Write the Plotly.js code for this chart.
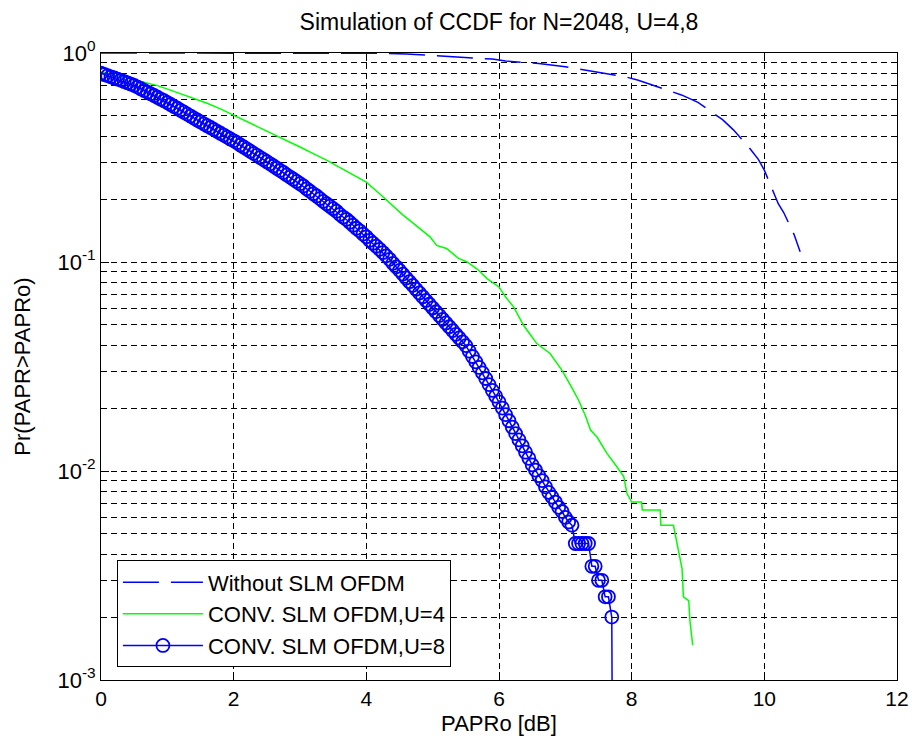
<!DOCTYPE html>
<html>
<head>
<meta charset="utf-8">
<script src="https://cdn.plot.ly/plotly-3.0.1.min.js"></script>
<style>
  html, body { margin: 0; padding: 0; background: #fff; }
  #chart { width: 912px; height: 747px; }
</style>
</head>
<body>
<div id="chart"></div>
<script>
// ---- Data ----
// Without SLM OFDM (dashed blue)
const xWithout = [0, 1, 2, 3, 3.9, 4.2, 4.6, 5.0, 5.5, 5.9, 6.1, 6.6, 7.0, 7.5, 7.9, 8.1, 8.55, 8.75, 9.0, 9.37, 9.53, 9.75, 9.91, 10.0, 10.21, 10.29, 10.45, 10.54];
const pWithout = [1, 1, 1, 1, 1, 0.997, 0.99, 0.975, 0.95, 0.935, 0.916, 0.89, 0.86, 0.81, 0.77, 0.74, 0.66, 0.63, 0.58, 0.48, 0.43, 0.36, 0.31, 0.275, 0.19, 0.173, 0.135, 0.112];

// CONV. SLM OFDM, U=4 (green)
const xU4 = [0, 0.2, 0.4, 0.6, 0.84, 1.1, 1.34, 1.6, 1.8, 2.0, 2.3, 2.5, 2.7, 3.0, 3.2, 3.4, 3.7, 4.0, 4.2, 4.36, 4.55, 4.71, 4.96, 5.06, 5.21, 5.39, 5.52, 5.68, 5.82, 6.0, 6.1, 6.22, 6.37, 6.47, 6.57, 6.77, 6.95, 7.1, 7.2, 7.3, 7.38, 7.48, 7.63, 7.78, 7.88, 7.93, 8.0, 8.15, 8.16, 8.43, 8.44, 8.63, 8.76, 8.78, 8.86, 8.88, 8.92];
const pU4 = [0.81, 0.785, 0.76, 0.73, 0.70, 0.655, 0.616, 0.575, 0.54, 0.504, 0.455, 0.425, 0.396, 0.355, 0.33, 0.307, 0.272, 0.241, 0.212, 0.19, 0.168, 0.153, 0.132, 0.12, 0.116, 0.104, 0.100, 0.092, 0.0833, 0.076, 0.068, 0.061, 0.0498, 0.045, 0.0407, 0.0365, 0.0303, 0.025, 0.0218, 0.0185, 0.0157, 0.0145, 0.0121, 0.01045, 0.0094, 0.0078, 0.0071, 0.0071, 0.0065, 0.0065, 0.0055, 0.0055, 0.0034, 0.0025, 0.0024, 0.0019, 0.00147];

// CONV. SLM OFDM, U=8 (blue with circles)
const xU8 = [0, 0.05, 0.1, 0.15, 0.2, 0.25, 0.3, 0.35, 0.4, 0.45, 0.5, 0.55, 0.6, 0.65, 0.7, 0.75, 0.8, 0.85, 0.9, 0.95,
  1, 1.05, 1.1, 1.15, 1.2, 1.25, 1.3, 1.35, 1.4, 1.45, 1.5, 1.55, 1.6, 1.65, 1.7, 1.75, 1.8, 1.85, 1.9, 1.95,
  2, 2.05, 2.1, 2.15, 2.2, 2.25, 2.3, 2.35, 2.4, 2.45, 2.5, 2.55, 2.6, 2.65, 2.7, 2.75, 2.8, 2.85, 2.9, 2.95,
  3, 3.05, 3.1, 3.15, 3.2, 3.25, 3.3, 3.35, 3.4, 3.45, 3.5, 3.55, 3.6, 3.65, 3.7, 3.75, 3.8, 3.85, 3.9, 3.95,
  4, 4.05, 4.1, 4.15, 4.2, 4.25, 4.3, 4.35, 4.4, 4.45, 4.5, 4.55, 4.6, 4.65, 4.7, 4.75, 4.8, 4.85, 4.9, 4.95,
  5, 5.05, 5.1, 5.15, 5.2, 5.25, 5.3, 5.35, 5.4, 5.45, 5.5, 5.55, 5.6, 5.65, 5.7, 5.75, 5.8, 5.85, 5.9, 5.95,
  6, 6.05, 6.1, 6.15, 6.2, 6.25, 6.3, 6.35, 6.4, 6.45, 6.5, 6.55, 6.6, 6.65, 6.7, 6.75, 6.8, 6.85, 6.9, 6.95,
  7, 7.05, 7.1, 7.15, 7.2, 7.25, 7.3, 7.35, 7.4, 7.45, 7.5, 7.55, 7.6, 7.65, 7.7, 7.75];
const pU8 = [0.800, 0.789, 0.779, 0.769, 0.760, 0.750, 0.740, 0.730, 0.720, 0.710, 0.700, 0.687, 0.675, 0.662, 0.650, 0.638, 0.626, 0.614, 0.602, 0.591,
  0.579, 0.567, 0.555, 0.544, 0.532, 0.521, 0.510, 0.499, 0.488, 0.478, 0.468, 0.458, 0.449, 0.440, 0.431, 0.422, 0.413, 0.405, 0.396, 0.388,
  0.380, 0.372, 0.363, 0.355, 0.347, 0.339, 0.331, 0.324, 0.316, 0.309, 0.302, 0.295, 0.288, 0.281, 0.274, 0.268, 0.261, 0.255, 0.249, 0.243,
  0.237, 0.231, 0.224, 0.218, 0.212, 0.207, 0.201, 0.195, 0.190, 0.185, 0.180, 0.175, 0.169, 0.164, 0.160, 0.155, 0.150, 0.145, 0.141, 0.136,
  0.132, 0.127, 0.123, 0.119, 0.115, 0.111, 0.107, 0.103, 0.0986, 0.0948, 0.0912, 0.0875, 0.0839, 0.0805, 0.0773, 0.0741, 0.0711, 0.0682, 0.0655, 0.0628,
  0.0603, 0.0578, 0.0555, 0.0532, 0.0511, 0.0490, 0.0470, 0.0451, 0.0433, 0.0415, 0.0398, 0.0375, 0.0353, 0.0333, 0.0313, 0.0295, 0.0277, 0.0259, 0.0243, 0.0228,
  0.0214, 0.0200, 0.0186, 0.0174, 0.0162, 0.0151, 0.0141, 0.0132, 0.0123, 0.0115, 0.0107, 0.0101, 0.0095, 0.0090, 0.0084, 0.0079, 0.0075, 0.0071, 0.0067, 0.0064,
  0.0060, 0.0057, 0.0055, 0.0045, 0.0045, 0.0045, 0.0045, 0.0045, 0.0035, 0.0035, 0.0030, 0.0030, 0.0025, 0.0025, 0.0020, 0.000001];

// Tick labels
const xTickVals = [0, 2, 4, 6, 8, 10, 12];
const yTickVals = [1, 0.1, 0.01, 0.001];
const yTickText = ['10<sup>0</sup>', '10<sup>-1</sup>', '10<sup>-2</sup>', '10<sup>-3</sup>'];
const seriesNames = ['Without SLM OFDM', 'CONV. SLM OFDM,U=4', 'CONV. SLM OFDM,U=8'];

// minor grid positions (2..9 in each decade)
const yMinor = [];
[0.001, 0.01, 0.1].forEach(function (d) {
  for (let k = 2; k <= 9; k++) yMinor.push(+(k * d).toPrecision(3));
});

const FONT = 'Liberation Sans, Arial, Helvetica, sans-serif';

const traces = [
  {
    x: xWithout, y: pWithout, name: seriesNames[0], type: 'scatter', mode: 'lines',
    line: { color: '#0000ff', width: 1.5, dash: '36px,12px' }
  },
  {
    x: xU4, y: pU4, name: seriesNames[1], type: 'scatter', mode: 'lines',
    line: { color: '#00ff00', width: 1.5 }
  },
  {
    x: xU8, y: pU8, name: seriesNames[2], type: 'scatter', mode: 'lines+markers',
    line: { color: '#0000ff', width: 1.5 },
    marker: { symbol: 'circle-open', size: 13, color: '#0000ff', line: { color: '#0000ff', width: 1.8 } }
  }
];

const gridDash = '6px,4px';

const layout = {
  width: 912, height: 747,
  paper_bgcolor: '#ffffff', plot_bgcolor: '#ffffff',
  margin: { l: 101, r: 15, t: 53, b: 67, pad: 0 },
  font: { family: FONT, size: 21, color: '#000' },
  title: {
    text: 'Simulation of CCDF for N=2048, U=4,8',
    x: 0.5, xref: 'paper', xanchor: 'center',
    y: 1 - 22 / 747, yref: 'container', yanchor: 'middle',
    font: { family: FONT, size: 23, color: '#000' }
  },
  showlegend: true,
  legend: {
    x: 0.02, y: 0.02, xanchor: 'left', yanchor: 'bottom',
    bgcolor: '#ffffff', bordercolor: '#000', borderwidth: 1,
    font: { family: FONT, size: 22, color: '#000' },
    itemwidth: 80, tracegroupgap: 0
  },
  xaxis: {
    range: [0, 12], tickmode: 'array', tickvals: xTickVals,
    ticks: 'inside', ticklen: 8, tickcolor: '#000', tickwidth: 1,
    showline: true, linecolor: '#000', linewidth: 1, mirror: 'ticks',
    showgrid: true, gridcolor: '#000', gridwidth: 1, griddash: gridDash,
    zeroline: false, layer: 'below traces',
    tickfont: { family: FONT, size: 21, color: '#000' },
    title: { text: 'PAPRo [dB]', font: { family: FONT, size: 22, color: '#000' }, standoff: 6 }
  },
  yaxis: {
    type: 'log', range: [-3, 0], tickmode: 'array', tickvals: yTickVals, ticktext: yTickText,
    ticks: 'inside', ticklen: 8, tickcolor: '#000', tickwidth: 1,
    showline: true, linecolor: '#000', linewidth: 1, mirror: 'ticks',
    showgrid: true, gridcolor: '#000', gridwidth: 1, griddash: gridDash,
    zeroline: false, layer: 'below traces',
    minor: {
      tickmode: 'array', tickvals: yMinor, ticks: 'inside', ticklen: 4, tickcolor: '#000',
      showgrid: true, gridcolor: '#000', gridwidth: 1, griddash: gridDash
    },
    tickfont: { family: FONT, size: 22, color: '#000' },
    title: { text: 'Pr(PAPR>PAPRo)', font: { family: FONT, size: 22, color: '#000' }, standoff: 20 }
  }
};

Plotly.newPlot('chart', traces, layout, { displayModeBar: false, staticPlot: true });
</script>
</body>
</html>
